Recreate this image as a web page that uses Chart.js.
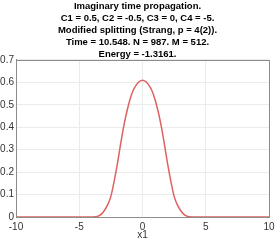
<!DOCTYPE html>
<html>
<head>
<meta charset="utf-8">
<script src="https://cdn.jsdelivr.net/npm/chart.js@4/dist/chart.umd.min.js"></script>
<style>
html,body{margin:0;padding:0;background:#fff;}
#wrap{width:275px;height:241px;}
</style>
</head>
<body>
<div id="wrap"><canvas id="c" width="275" height="241"></canvas></div>
<script>
const titleLines = [
  "Imaginary time propagation.",
  "C1 = 0.5, C2 = -0.5, C3 = 0, C4 = -5.",
  "Modified splitting (Strang, p = 4(2)).",
  "Time = 10.548. N = 987. M = 512.",
  "Energy = -1.3161."
];
const xLabel = "x1";
const xValues = [-10, -6, -4.5, -4, -3.75, -3.5, -3.25, -3, -2.75, -2.5, -2.25, -2, -1.75, -1.5, -1.25, -1, -0.75, -0.5, -0.25, 0,
                 0.25, 0.5, 0.75, 1, 1.25, 1.5, 1.75, 2, 2.25, 2.5, 2.75, 3, 3.25, 3.5, 3.75, 4, 4.5, 6, 10];
const yValues = [0, 0, 0, 0, 0.001, 0.004, 0.013, 0.030, 0.055, 0.092, 0.157, 0.232, 0.318, 0.400, 0.467, 0.522, 0.563, 0.588, 0.604, 0.610,
                 0.604, 0.588, 0.563, 0.522, 0.467, 0.400, 0.318, 0.232, 0.157, 0.092, 0.055, 0.030, 0.013, 0.004, 0.001, 0, 0, 0, 0];

const boxPlugin = {
  id: 'box',
  afterDraw(chart) {
    const a = chart.chartArea, ctx = chart.ctx;
    ctx.save();
    ctx.strokeStyle = '#8c8c8c';
    ctx.lineWidth = 1;
    ctx.strokeRect(Math.round(a.left) + 0.5, Math.round(a.top) + 0.5, Math.round(a.right - a.left), Math.round(a.bottom - a.top));
    ctx.restore();
  }
};

new Chart(document.getElementById('c'), {
  type: 'line',
  data: {
    datasets: [{
      data: xValues.map((x, i) => ({x: x, y: yValues[i]})),
      borderColor: 'rgb(222,98,98)',
      borderWidth: 1.5,
      pointRadius: 0,
      cubicInterpolationMode: 'monotone',
      fill: false
    }]
  },
  options: {
    responsive: false,
    animation: false,
    layout: {padding: {left: 0, right: 0, top: 0, bottom: 0}},
    plugins: {
      legend: {display: false},
      tooltip: {enabled: false},
      title: {
        display: true,
        text: titleLines,
        color: '#000',
        font: {family: 'Liberation Sans, Arial, sans-serif', size: 9.5, weight: 'bold', lineHeight: 1.263},
        padding: {top: 0, bottom: 0}
      }
    },
    scales: {
      x: {
        type: 'linear',
        min: -10, max: 10,
        ticks: {stepSize: 5, color: '#333', font: {family: 'Liberation Sans, Arial, sans-serif', size: 10}, padding: 4, maxRotation: 0},
        grid: {color: '#ebebeb', drawTicks: false},
        border: {color: '#8c8c8c'},
        title: {display: true, text: xLabel, color: '#333', font: {family: 'Liberation Sans, Arial, sans-serif', size: 10}, padding: {top: 1, bottom: 0}},
        afterFit(s) { s.height = 24; s.paddingRight = 6; }
      },
      y: {
        min: 0, max: 0.7,
        ticks: {stepSize: 0.1, color: '#333', font: {family: 'Liberation Sans, Arial, sans-serif', size: 10}, padding: 2},
        grid: {color: '#ebebeb', drawTicks: false},
        border: {color: '#8c8c8c'},
        afterFit(s) { s.width = 16; }
      }
    }
  },
  plugins: [boxPlugin]
});
</script>
</body>
</html>
